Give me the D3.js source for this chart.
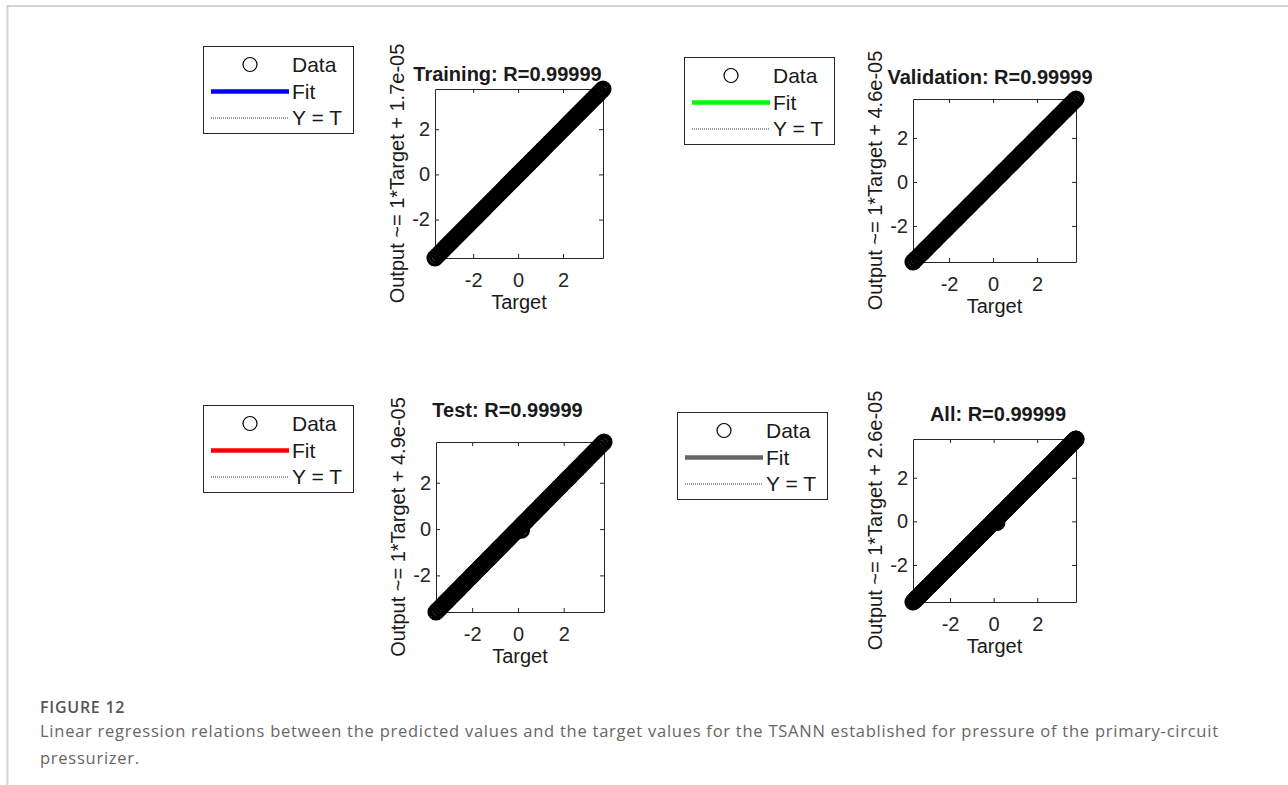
<!DOCTYPE html>
<html lang="en">
  <head>
    <meta charset="UTF-8" />
    <title>Figure 12</title>
    <style>
      body {
        margin: 0;
        background: #fff;
      }
      .axis .domain,
      .axis line {
        stroke: #262626;
        stroke-width: 1;
      }
      .axis text {
        fill: #262626;
      }
      .matlab-text {
        font-family: "Liberation Sans", Arial, sans-serif;
        fill: #1a1a1a;
      }
      .caption {
        font-family: "Open Sans", sans-serif;
        font-size: 16.5px;
        letter-spacing: 0.75px;
      }
    </style>
  </head>
  <body>
    <script src="https://d3js.org/d3.v7.min.js"></script>
    <script>
      // values
      const trainTarget = [-3.7, -3.6, -3.5, -3.4, -3.3, -3.2, -3.1, -3.0, -2.9, -2.8, -2.7, -2.6, -2.5, -2.4, -2.3, -2.2, -2.1, -2.0, -1.9, -1.8, -1.7, -1.6, -1.5, -1.4, -1.3, -1.2, -1.1, -1.0, -0.9, -0.8, -0.7, -0.6, -0.5, -0.4, -0.3, -0.2, -0.1, 0.0, 0.1, 0.2, 0.3, 0.4, 0.5, 0.6, 0.7, 0.8, 0.9, 1.0, 1.1, 1.2, 1.3, 1.4, 1.5, 1.6, 1.7, 1.8, 1.9, 2.0, 2.1, 2.2, 2.3, 2.4, 2.5, 2.6, 2.7, 2.8, 2.9, 3.0, 3.1, 3.2, 3.3, 3.4, 3.5, 3.6, 3.7, 3.78];
      const trainOutput = [-3.7, -3.6, -3.5, -3.4, -3.3, -3.2, -3.1, -3.0, -2.9, -2.8, -2.7, -2.6, -2.5, -2.4, -2.3, -2.2, -2.1, -2.0, -1.9, -1.8, -1.7, -1.6, -1.5, -1.4, -1.3, -1.2, -1.1, -1.0, -0.9, -0.8, -0.7, -0.6, -0.5, -0.4, -0.3, -0.2, -0.1, 0.0, 0.1, 0.2, 0.3, 0.4, 0.5, 0.6, 0.7, 0.8, 0.9, 1.0, 1.1, 1.2, 1.3, 1.4, 1.5, 1.6, 1.7, 1.8, 1.9, 2.0, 2.1, 2.2, 2.3, 2.4, 2.5, 2.6, 2.7, 2.8, 2.9, 3.0, 3.1, 3.2, 3.3, 3.4, 3.5, 3.6, 3.7, 3.78];

      const valTarget = [-3.64, -3.6, -3.5, -3.4, -3.3, -3.2, -3.1, -3.0, -2.9, -2.8, -2.7, -2.6, -2.5, -2.4, -2.3, -2.2, -2.1, -2.0, -1.9, -1.8, -1.7, -1.6, -1.5, -1.4, -1.3, -1.2, -1.1, -1.0, -0.9, -0.8, -0.7, -0.6, -0.5, -0.4, -0.3, -0.2, -0.1, 0.0, 0.1, 0.2, 0.3, 0.4, 0.5, 0.6, 0.7, 0.8, 0.9, 1.0, 1.1, 1.2, 1.3, 1.4, 1.5, 1.6, 1.7, 1.8, 1.9, 2.0, 2.1, 2.2, 2.3, 2.4, 2.5, 2.6, 2.7, 2.8, 2.9, 3.0, 3.1, 3.2, 3.3, 3.4, 3.5, 3.6, 3.7, 3.77];
      const valOutput = [-3.64, -3.6, -3.5, -3.4, -3.3, -3.2, -3.1, -3.0, -2.9, -2.8, -2.7, -2.6, -2.5, -2.4, -2.3, -2.2, -2.1, -2.0, -1.9, -1.8, -1.7, -1.6, -1.5, -1.4, -1.3, -1.2, -1.1, -1.0, -0.9, -0.8, -0.7, -0.6, -0.5, -0.4, -0.3, -0.2, -0.1, 0.0, 0.1, 0.2, 0.3, 0.4, 0.5, 0.6, 0.7, 0.8, 0.9, 1.0, 1.1, 1.2, 1.3, 1.4, 1.5, 1.6, 1.7, 1.8, 1.9, 2.0, 2.1, 2.2, 2.3, 2.4, 2.5, 2.6, 2.7, 2.8, 2.9, 3.0, 3.1, 3.2, 3.3, 3.4, 3.5, 3.6, 3.7, 3.77];

      const testTarget = [-3.58, -3.5, -3.4, -3.3, -3.2, -3.1, -3.0, -2.9, -2.8, -2.7, -2.6, -2.5, -2.4, -2.3, -2.2, -2.1, -2.0, -1.9, -1.8, -1.7, -1.6, -1.5, -1.4, -1.3, -1.2, -1.1, -1.0, -0.9, -0.8, -0.7, -0.6, -0.5, -0.4, -0.3, -0.2, -0.1, 0.0, 0.1, 0.15, 0.2, 0.3, 0.4, 0.5, 0.6, 0.7, 0.8, 0.9, 1.0, 1.1, 1.2, 1.3, 1.4, 1.5, 1.6, 1.7, 1.8, 1.9, 2.0, 2.1, 2.2, 2.3, 2.4, 2.5, 2.6, 2.7, 2.8, 2.9, 3.0, 3.1, 3.2, 3.3, 3.4, 3.5, 3.6, 3.7, 3.76];
      const testOutput = [-3.58, -3.5, -3.4, -3.3, -3.2, -3.1, -3.0, -2.9, -2.8, -2.7, -2.6, -2.5, -2.4, -2.3, -2.2, -2.1, -2.0, -1.9, -1.8, -1.7, -1.6, -1.5, -1.4, -1.3, -1.2, -1.1, -1.0, -0.9, -0.8, -0.7, -0.6, -0.5, -0.4, -0.3, -0.2, -0.1, 0.0, 0.1, -0.05, 0.2, 0.3, 0.4, 0.5, 0.6, 0.7, 0.8, 0.9, 1.0, 1.1, 1.2, 1.3, 1.4, 1.5, 1.6, 1.7, 1.8, 1.9, 2.0, 2.1, 2.2, 2.3, 2.4, 2.5, 2.6, 2.7, 2.8, 2.9, 3.0, 3.1, 3.2, 3.3, 3.4, 3.5, 3.6, 3.7, 3.76];

      // "All" panel is the union of the three sets
      const allTarget = trainTarget.concat(valTarget, testTarget);
      const allOutput = trainOutput.concat(valOutput, testOutput);

      const titles = ["Training: R=0.99999", "Validation: R=0.99999", "Test: R=0.99999", "All: R=0.99999"];
      const yLabels = [
        "Output ~= 1*Target + 1.7e-05",
        "Output ~= 1*Target + 4.6e-05",
        "Output ~= 1*Target + 4.9e-05",
        "Output ~= 1*Target + 2.6e-05",
      ];
      const fitColors = ["#0000ff", "#00ff00", "#ff0000", "#666666"];
      const tickValues = [-2, 0, 2];
      const tickLabels = ["-2", "0", "2"];
      const legendLabels = ["Data", "Fit", "Y = T"];
      const figureLabel = "FIGURE 12";
      const captionLines = [
        "Linear regression relations between the predicted values and the target values for the TSANN established for pressure of the primary-circuit",
        "pressurizer.",
      ];

      const panels = [
        { target: trainTarget, output: trainOutput, box: { x: 435, y: 89, w: 168, h: 169 }, title: { x: 507.5, y: 81 }, legend: { x: 203, y: 46 } },
        { target: valTarget, output: valOutput, box: { x: 913, y: 99, w: 163, h: 163 }, title: { x: 990, y: 84 }, legend: { x: 684, y: 57 } },
        { target: testTarget, output: testOutput, box: { x: 436, y: 442, w: 168, h: 170 }, title: { x: 507.5, y: 417 }, legend: { x: 203, y: 405 } },
        { target: allTarget, output: allOutput, box: { x: 913, y: 439, w: 163, h: 163 }, title: { x: 998, y: 421 }, legend: { x: 677, y: 412 } },
      ];

      const svg = d3
        .select("body")
        .append("svg")
        .attr("width", 1288)
        .attr("height", 785);

      // page frame
      svg.append("line").attr("x1", 7.5).attr("x2", 1288).attr("y1", 6).attr("y2", 6)
        .attr("stroke", "#d2d2d2").attr("stroke-width", 2);
      svg.append("line").attr("x1", 7.5).attr("x2", 7.5).attr("y1", 5).attr("y2", 785)
        .attr("stroke", "#d2d2d2").attr("stroke-width", 2);

      panels.forEach((p, i) => {
        const b = p.box;
        const extent = d3.extent(p.target.concat(p.output));
        const x = d3.scaleLinear().domain(extent).range([b.x, b.x + b.w]);
        const y = d3.scaleLinear().domain(extent).range([b.y + b.h, b.y]);
        const points = p.target.map((t, j) => ({ t, o: p.output[j] }));

        const g = svg.append("g");

        // Y = T and fit lines sit under the data markers
        g.append("line")
          .attr("x1", x(extent[0])).attr("y1", y(extent[0]))
          .attr("x2", x(extent[1])).attr("y2", y(extent[1]))
          .attr("stroke", fitColors[i]).attr("stroke-width", 3);
        g.append("line")
          .attr("x1", x(extent[0])).attr("y1", y(extent[0]))
          .attr("x2", x(extent[1])).attr("y2", y(extent[1]))
          .attr("stroke", "#333").attr("stroke-width", 1).attr("stroke-dasharray", "1,1");

        // axes box
        const fmt = (d) => tickLabels[tickValues.indexOf(d)];
        const bottom = g.append("g").attr("class", "axis matlab-text")
          .attr("transform", `translate(0,${b.y + b.h})`)
          .call(d3.axisBottom(x).tickValues(tickValues).tickFormat(fmt).tickSizeInner(-4).tickSizeOuter(0).tickPadding(15));
        const left = g.append("g").attr("class", "axis matlab-text")
          .attr("transform", `translate(${b.x},0)`)
          .call(d3.axisLeft(y).tickValues(tickValues).tickFormat(fmt).tickSizeInner(-4).tickSizeOuter(0).tickPadding(5));
        g.append("g").attr("class", "axis")
          .attr("transform", `translate(0,${b.y})`)
          .call(d3.axisTop(x).tickValues(tickValues).tickFormat("").tickSizeInner(-4).tickSizeOuter(0));
        g.append("g").attr("class", "axis")
          .attr("transform", `translate(${b.x + b.w},0)`)
          .call(d3.axisRight(y).tickValues(tickValues).tickFormat("").tickSizeInner(-4).tickSizeOuter(0));
        [bottom, left].forEach((a) =>
          a.attr("font-family", null).attr("font-size", null)
            .selectAll("text").style("font-size", "20px")
        );

        // data markers
        g.append("g")
          .selectAll("circle")
          .data(points)
          .join("circle")
          .attr("cx", (d) => x(d.t))
          .attr("cy", (d) => y(d.o))
          .attr("r", 7)
          .attr("fill", "none")
          .attr("stroke", "#000")
          .attr("stroke-width", 3.2);

        // labels
        g.append("text").attr("class", "matlab-text")
          .attr("x", p.title.x).attr("y", p.title.y)
          .attr("text-anchor", "middle")
          .attr("font-size", 20).attr("font-weight", "bold")
          .text(titles[i]);
        g.append("text").attr("class", "matlab-text")
          .attr("x", (b.x + b.x + b.w) / 2).attr("y", b.y + b.h + 44)
          .attr("text-anchor", "middle").attr("dy", "0.35em")
          .attr("font-size", 20)
          .text("Target");
        g.append("text").attr("class", "matlab-text")
          .attr("transform", `translate(${b.x - 38},${b.y + b.h / 2}) rotate(-90)`)
          .attr("text-anchor", "middle").attr("dy", "0.35em")
          .attr("font-size", 20)
          .text(yLabels[i]);

        // legend
        const L = p.legend;
        const lg = g.append("g").attr("transform", `translate(${L.x},${L.y})`);
        lg.append("rect").attr("x", 0.5).attr("y", 0.5).attr("width", 150).attr("height", 87)
          .attr("fill", "#fff").attr("stroke", "#262626").attr("stroke-width", 1);
        const rows = [18.5, 45.5, 72];
        lg.append("circle").attr("cx", 47).attr("cy", rows[0]).attr("r", 7)
          .attr("fill", "none").attr("stroke", "#000").attr("stroke-width", 1.2);
        lg.append("line").attr("x1", 8).attr("x2", 86).attr("y1", rows[1]).attr("y2", rows[1])
          .attr("stroke", fitColors[i]).attr("stroke-width", 4.5);
        lg.append("line").attr("x1", 8).attr("x2", 86).attr("y1", rows[2]).attr("y2", rows[2])
          .attr("stroke", "#333").attr("stroke-width", 1).attr("stroke-dasharray", "1,1");
        lg.selectAll(".leg-text")
          .data(legendLabels)
          .join("text")
          .attr("class", "matlab-text leg-text")
          .attr("x", 89)
          .attr("y", (d, k) => rows[k])
          .attr("dy", "0.35em")
          .attr("font-size", 21)
          .text((d) => d);
      });

      // caption
      svg.append("text").attr("class", "caption")
        .attr("x", 40).attr("y", 713)
        .attr("fill", "#555")
        .attr("font-weight", 600)
        .style("font-size", "16px")
        .text(figureLabel);
      svg.selectAll(".caption-line")
        .data(captionLines)
        .join("text")
        .attr("class", "caption caption-line")
        .attr("x", 40)
        .attr("y", (d, k) => 737 + k * 27)
        .attr("fill", "#666")
        .text((d) => d);
    </script>
  </body>
</html>
